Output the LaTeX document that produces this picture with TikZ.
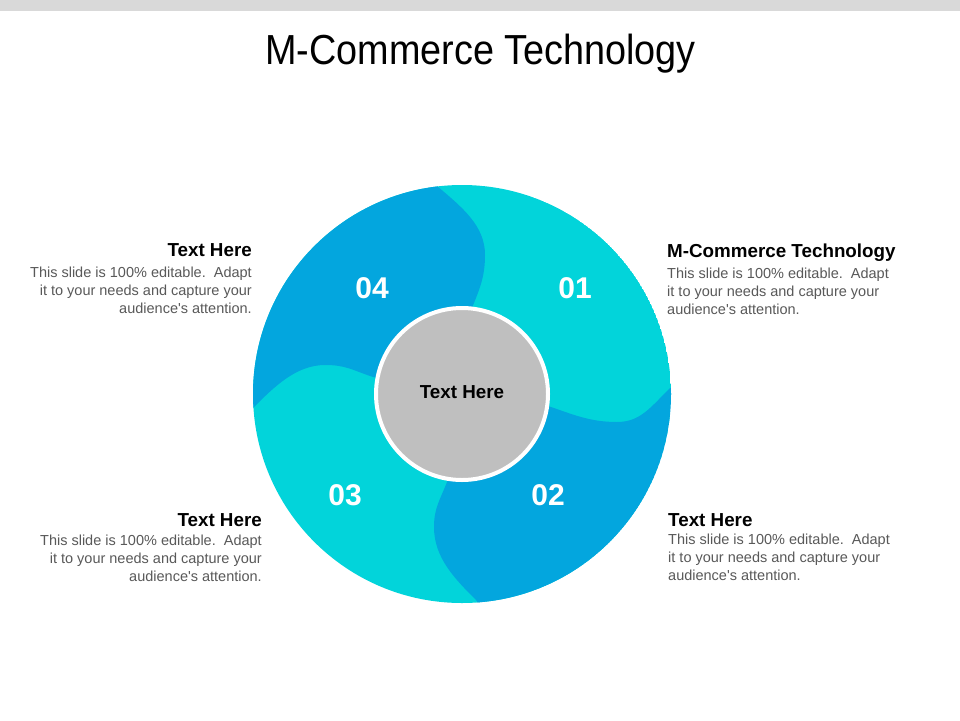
\documentclass[tikz,border=0pt]{standalone}
\usepackage{fontspec}
\setmainfont{Liberation Sans}
\newfontfamily\titlefont[FakeStretch=0.9]{Liberation Sans}
\newfontfamily\bodyfont{Liberation Sans}
\usetikzlibrary{calc}
\definecolor{segcyan}{HTML}{02D4DA}
\definecolor{segblue}{HTML}{03A6DE}
\definecolor{hubgray}{HTML}{BFBFBF}
\definecolor{bodygray}{HTML}{595959}
\definecolor{bargray}{HTML}{D9D9D9}
\tikzset{
  numlabel/.style={text=white, font=\bfseries\fontsize{30}{30}\selectfont, inner sep=0pt, anchor=base},
  headtext/.style={text=black, font=\bfseries\fontsize{18.8}{22}\selectfont, inner sep=0pt},
  bodytext/.style={text=bodygray, font=\bodyfont\fontsize{14.5}{17.6}\selectfont, inner sep=0pt},
}
\begin{document}
\begin{tikzpicture}[x=1pt,y=-1pt]
\useasboundingbox (0,0) rectangle (960,720);
\fill[white] (0,0) rectangle (960,720);
\fill[bargray] (0,0) rectangle (960,11);
\node[inner sep=0pt, anchor=base, font=\titlefont\fontsize{42}{42}\selectfont] (title) at (480.5,64) {M-Commerce Technology};

\coordinate (c) at (462,394);
% boundary points
\coordinate (At) at (437,186);  \coordinate (Bt) at (485,255);  \coordinate (Ct) at (472,308);
\coordinate (Ar) at (670,388);  \coordinate (Br) at (617,422);  \coordinate (Cr) at (548,406);
\coordinate (Ab) at (477,601);  \coordinate (Bb) at (434,527);  \coordinate (Cb) at (447,482);
\coordinate (Al) at (253,408);  \coordinate (Bl) at (325,365);  \coordinate (Cl) at (373,377);

\begin{scope}
\clip (c) circle (209);
\fill[segcyan] (c) circle (209);
% segment 04
\fill[segblue] (At) .. controls (463,208) and (485,226) .. (Bt)
  .. controls (485,278) and (479,290) .. (Ct) -- (c) -- (Cl)
  .. controls (352,370) and (346,365) .. (Bl)
  .. controls (296,365) and (274,387) .. (Al)
  -- ($(c)!1.6!(Al)$) -- (100,80) -- ($(c)!1.6!(At)$) -- cycle;
% segment 02
\fill[segblue] (Ar) .. controls (650,408) and (640,422) .. (Br)
  .. controls (589,422) and (572,414) .. (Cr) -- (c) -- (Cb)
  .. controls (440,500) and (434,508) .. (Bb)
  .. controls (434,558) and (455,579) .. (Ab)
  -- ($(c)!1.6!(Ab)$) -- (820,710) -- ($(c)!1.6!(Ar)$) -- cycle;
\end{scope}

\draw[white, line width=4pt, fill=hubgray] (c) circle (86);
\node[headtext, anchor=base] (hub) at (462,398) {Text Here};

\node[numlabel] (n04) at (372,298) {04};
\node[numlabel] (n01) at (575,298) {01};
\node[numlabel] (n03) at (345,505) {03};
\node[numlabel] (n02) at (548,505) {02};

% right top
\node[headtext, anchor=base west] (h1) at (667,257) {M-Commerce Technology};
\node[bodytext, anchor=base west, align=left] (b1) at (667,314) {This slide is 100\% editable.\ \ Adapt\\it to your needs and capture your\\audience's attention.};
% right bottom
\node[headtext, anchor=base west] (h2) at (668,526) {Text Here};
\node[bodytext, anchor=base west, align=left] (b2) at (668,580) {This slide is 100\% editable.\ \ Adapt\\it to your needs and capture your\\audience's attention.};
% left top
\node[headtext, anchor=base east] (h4) at (252,256) {Text Here};
\node[bodytext, anchor=base east, align=right] (b4) at (252,313) {This slide is 100\% editable.\ \ Adapt\\it to your needs and capture your\\audience's attention.};
% left bottom
\node[headtext, anchor=base east] (h3) at (262,526) {Text Here};
\node[bodytext, anchor=base east, align=right] (b3) at (262,581) {This slide is 100\% editable.\ \ Adapt\\it to your needs and capture your\\audience's attention.};
\end{tikzpicture}
\end{document}
